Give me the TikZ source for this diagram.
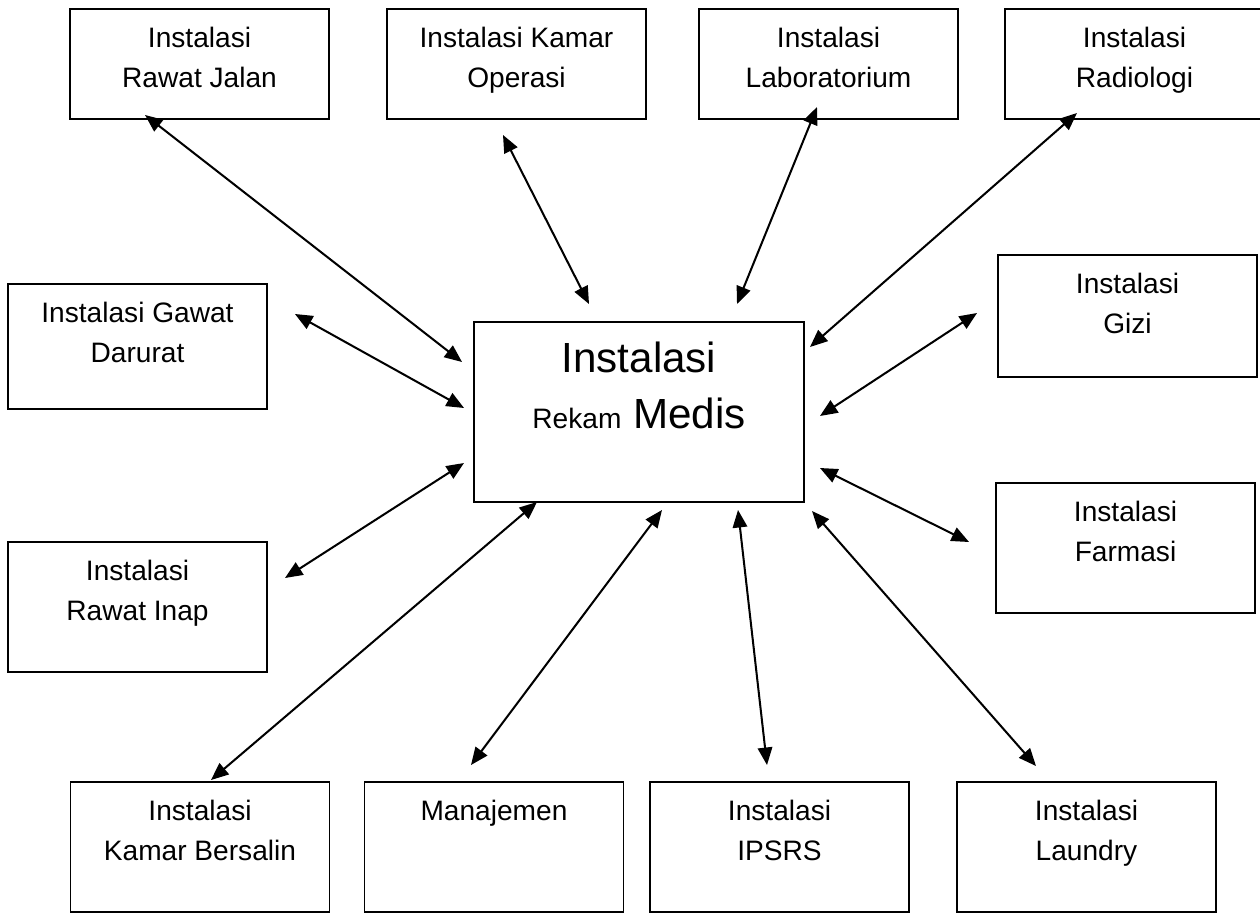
\documentclass[tikz,border=0pt]{standalone}
\usepackage{fontspec}
\setmainfont{Liberation Sans}
\usetikzlibrary{arrows.meta}
\def\boxw{5.18cm}
\def\firstline{0.76cm}

\begin{document}
\begin{tikzpicture}[x=0.02cm,y=-0.02cm,
        unit/.style={draw,line width=0.9pt,inner sep=0pt,outer sep=0pt,align=flush center,
          text width=\boxw,text height=\firstline,text depth=#1,
          font=\fontsize{16pt}{22.8pt}\selectfont},
        unit/.default=1.84cm,
        link/.style={<->,>={Triangle[length=0.35cm,width=0.29cm]},line width=1.15pt}]
        %
        \useasboundingbox (0,0) rectangle (1260,913);
        %
        \node[unit=2.6cm,text width=6.6cm,text height=1cm,font=\fontsize{24pt}{32pt}\selectfont] (medis) at (639,412) {Instalasi\\{\fontsize{16pt}{32pt}\selectfont Rekam} Medis}; % Rekam Medis
        %
        \node[unit=1.44cm] (jalan) at (199.5,64) {Instalasi\\Rawat Jalan};
        \node[unit=1.44cm] (operasi) at (516.5,64) {Instalasi Kamar\\Operasi};
        \node[unit=1.44cm] (lab) at (828.5,64) {Instalasi\\Laboratorium};
        \node[unit=1.44cm] (radiologi) at (1134.5,64) {Instalasi\\Radiologi};
        \node[unit=1.74cm] (gawat) at (137.5,346.5) {Instalasi Gawat\\Darurat};
        \node[unit=1.68cm] (gizi) at (1127.5,316) {Instalasi\\Gizi};
        \node[unit] (inap) at (137.5,607) {Instalasi\\Rawat Inap};
        \node[unit] (farmasi) at (1125.5,548) {Instalasi\\Farmasi};
        \node[unit] (bersalin) at (200,847) {Instalasi\\Kamar Bersalin};
        \node[unit] (manajemen) at (494,847) {Manajemen};
        \node[unit] (ipsrs) at (779.5,847) {Instalasi\\IPSRS};
        \node[unit] (laundry) at (1086.5,847) {Instalasi\\Laundry};
        %
        \draw[link] ([shift={(-54.5,-4)}]jalan.south) -- ([shift={(-12,-50)}]medis.west);
        \draw[link] ([shift={(-13.5,16)}]operasi.south) -- ([shift={(-50,-18)}]medis.north);
        \draw[link] ([shift={(-11.5,-12)}]lab.south) -- ([shift={(98,-18)}]medis.north);
        \draw[link] ([shift={(-57.5,-6)}]radiologi.south) -- ([shift={(6,-65)}]medis.east);
        \draw[link] ([shift={(28,-32.5)}]gawat.east) -- ([shift={(-10,-4)}]medis.west);
        \draw[link] ([shift={(18,-29)}]inap.east) -- ([shift={(-10,51)}]medis.west);
        \draw[link] ([shift={(-21,-3)}]gizi.west) -- ([shift={(16,4)}]medis.east);
        \draw[link] ([shift={(-27,-6)}]farmasi.west) -- ([shift={(16,56)}]medis.east);
        \draw[link] ([shift={(11,-2)}]bersalin.north) -- ([shift={(-102,0)}]medis.south);
        \draw[link] ([shift={(-23,-17)}]manajemen.north) -- ([shift={(23,8)}]medis.south);
        \draw[link] ([shift={(-12.5,-17)}]ipsrs.north) -- ([shift={(99,8)}]medis.south);
        \draw[link] ([shift={(-50.5,-16)}]laundry.north) -- ([shift={(173,9)}]medis.south);
      \end{tikzpicture}
\end{document}
